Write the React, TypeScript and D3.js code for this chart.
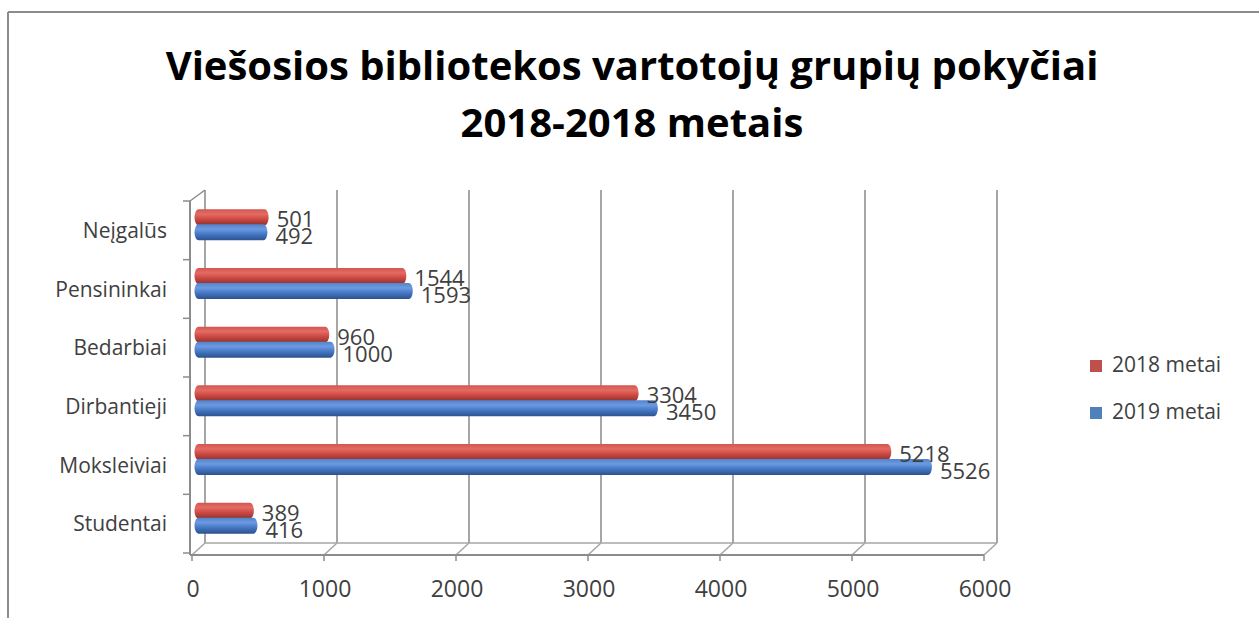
import React from "react";
import * as d3 from "d3";

const categories = ["Neįgalūs", "Pensininkai", "Bedarbiai", "Dirbantieji", "Moksleiviai", "Studentai"];
const values2018 = [501, 1544, 960, 3304, 5218, 389];
const values2019 = [492, 1593, 1000, 3450, 5526, 416];
const xTicks = [0, 1000, 2000, 3000, 4000, 5000, 6000];
const seriesNames = ["2018 metai", "2019 metai"];
const titleLines = ["Viešosios bibliotekos vartotojų grupių pokyčiai", "2018-2018 metais"];

const W = 1259;
const H = 618;
const DX = 13;
const DY = -12;
const FONT = "'Open Sans', 'Noto Sans', sans-serif";

export default function App() {
  const x = d3.scaleLinear().domain([0, 6000]).range([192, 984]);
  const y = d3.scaleBand<string>().domain(categories).range([201, 553]);
  const frontBottom = 555;
  const backTop = 190;
  const backBottom = frontBottom + DY;
  const barH = 16;
  const rx = 4;

  const cyl = (v: number, yc: number) => {
    const xa = x(0) + DX / 2;
    const xb = x(v) + DX / 2;
    const y0 = yc - barH / 2;
    const y1 = yc + barH / 2;
    const ry = barH / 2;
    return `M${xa},${y0}L${xb},${y0}A${rx},${ry} 0 0 1 ${xb},${y1}L${xa},${y1}A${rx},${ry} 0 0 1 ${xa},${y0}Z`;
  };

  return (
    <svg width={W} height={H} style={{ position: "absolute", left: 0, top: 0, background: "#fff" }}>
      <defs>
        <linearGradient id="gRed" x1="0" y1="0" x2="0" y2="1">
          <stop offset="0" stopColor="#d25650" />
          <stop offset="0.3" stopColor="#e46b64" />
          <stop offset="0.65" stopColor="#c9463f" />
          <stop offset="1" stopColor="#8a3330" />
        </linearGradient>
        <linearGradient id="gBlue" x1="0" y1="0" x2="0" y2="1">
          <stop offset="0" stopColor="#5283cc" />
          <stop offset="0.3" stopColor="#6b9ae0" />
          <stop offset="0.65" stopColor="#4274c2" />
          <stop offset="1" stopColor="#2c528c" />
        </linearGradient>
      </defs>
      <rect x={0} y={0} width={W} height={H} fill="#fff" />
      {/* frame */}
      <line x1={8} y1={12} x2={W} y2={12} stroke="#8c8c8c" strokeWidth={2} />
      <line x1={8} y1={12} x2={8} y2={H} stroke="#8c8c8c" strokeWidth={2} />

      {/* title */}
      <text x={632} y={80} textAnchor="middle" fontFamily={FONT} fontWeight="bold" fontSize={40} fill="#000">
        {titleLines[0]}
      </text>
      <text x={632} y={137} textAnchor="middle" fontFamily={FONT} fontWeight="bold" fontSize={40} fill="#000">
        {titleLines[1]}
      </text>

      {/* back wall gridlines */}
      {xTicks.map((t) => (
        <g key={"g" + t}>
          <line x1={x(t) + DX} y1={backTop} x2={x(t) + DX} y2={backBottom} stroke="#a6a6a6" strokeWidth={2} />
          <line x1={x(t)} y1={frontBottom} x2={x(t) + DX} y2={backBottom} stroke="#a6a6a6" strokeWidth={1.5} />
          <line x1={x(t)} y1={frontBottom} x2={x(t)} y2={frontBottom + 6} stroke="#8c8c8c" strokeWidth={1.5} />
        </g>
      ))}
      {/* back bottom edge */}
      <line x1={x(0) + DX} y1={backBottom} x2={x(6000) + DX} y2={backBottom} stroke="#a6a6a6" strokeWidth={1.5} />
      {/* left side wall */}
      <line x1={x(0) - 2} y1={y.range()[0]} x2={x(0) - 2} y2={frontBottom} stroke="#8c8c8c" strokeWidth={2} />
      <line x1={x(0) - 2} y1={y.range()[0]} x2={x(0) + DX} y2={backTop} stroke="#8c8c8c" strokeWidth={1.5} />
      {/* front bottom axis */}
      <line x1={x(0) - 2} y1={frontBottom} x2={x(6000)} y2={frontBottom} stroke="#8c8c8c" strokeWidth={2} />
      {/* category ticks */}
      {categories.concat(["_end"]).map((c, i) => {
        const yy = y.range()[0] + i * y.step();
        return <line key={"t" + i} x1={x(0) - 9} y1={yy} x2={x(0) - 2} y2={yy} stroke="#8c8c8c" strokeWidth={1.5} />;
      })}

      {/* bars */}
      {categories.map((c, i) => {
        const yc = (y(c) as number) + y.bandwidth() / 2 + DY / 2;
        const yr = yc - barH / 2 + 1;
        const yb = yc + barH / 2;
        return (
          <g key={c}>
            <path d={cyl(values2018[i], yr)} fill="url(#gRed)" />
            <path d={cyl(values2019[i], yb)} fill="url(#gBlue)" />
            <text x={x(values2018[i]) + DX / 2 + rx + 8} y={yr + 10} fontFamily={FONT} fontSize={22} fill="#404040">
              {values2018[i]}
            </text>
            <text x={x(values2019[i]) + DX / 2 + rx + 8} y={yb + 12} fontFamily={FONT} fontSize={22} fill="#404040">
              {values2019[i]}
            </text>
          </g>
        );
      })}

      {/* category labels */}
      {categories.map((c) => (
        <text
          key={"l" + c}
          x={167}
          y={(y(c) as number) + y.bandwidth() / 2 + 2}
          textAnchor="end"
          dominantBaseline="middle"
          fontFamily={FONT}
          fontSize={21}
          fill="#404040"
        >
          {c}
        </text>
      ))}

      {/* x tick labels */}
      {xTicks.map((t) => (
        <text key={"x" + t} x={x(t) + 1} y={597} textAnchor="middle" fontFamily={FONT} fontSize={23} fill="#404040">
          {t}
        </text>
      ))}

      {/* legend */}
      {seriesNames.map((s, i) => (
        <g key={s}>
          <rect x={1090} y={360 + i * 47} width={12} height={12} fill={i === 0 ? "#c0504d" : "#4f81bd"} />
          <text x={1112} y={366 + i * 47} dominantBaseline="middle" fontFamily={FONT} fontSize={21} fill="#404040">
            {s}
          </text>
        </g>
      ))}
    </svg>
  );
}
